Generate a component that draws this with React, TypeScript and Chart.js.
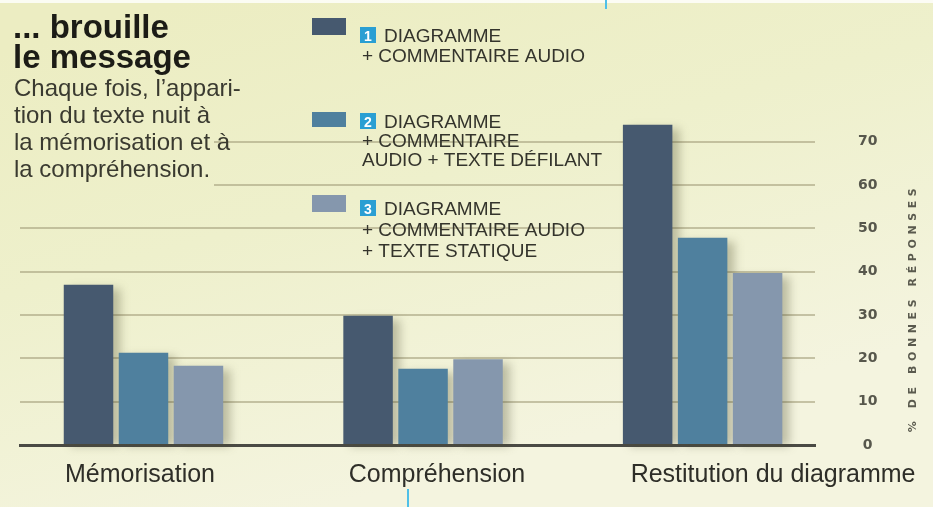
import React, { useEffect, useRef } from "react";
import { Chart, registerables } from "chart.js";

Chart.register(...registerables);

// ---- data ----
const CATEGORIES = ["Mémorisation", "Compréhension", "Restitution du diagramme"];
const SERIES_NAMES = [
  "DIAGRAMME + COMMENTAIRE AUDIO",
  "DIAGRAMME + COMMENTAIRE AUDIO + TEXTE DÉFILANT",
  "DIAGRAMME + COMMENTAIRE AUDIO + TEXTE STATIQUE",
];
const AUDIO_SEUL = [37, 29.8, 73.9];
const TEXTE_DEFILANT = [21.3, 17.6, 47.8];
const TEXTE_STATIQUE = [18.3, 19.8, 39.7];
const Y_TICKS = [0, 10, 20, 30, 40, 50, 60, 70];
const LEGEND_LINES = [
  ["DIAGRAMME", "+ COMMENTAIRE AUDIO"],
  ["DIAGRAMME", "+ COMMENTAIRE", "AUDIO + TEXTE DÉFILANT"],
  ["DIAGRAMME", "+ COMMENTAIRE AUDIO", "+ TEXTE STATIQUE"],
];
const TITLE_LINES = ["... brouille", "le message"];
const BODY_LINES = [
  "Chaque fois, l’appari-",
  "tion du texte nuit à",
  "la mémorisation et à",
  "la compréhension.",
];
const AXIS_TITLE = "% DE BONNES RÉPONSES";

const COLORS = ["#46596f", "#4f809e", "#8597ad"];

function makeBg(ctx: CanvasRenderingContext2D, w: number, h: number) {
  const g = ctx.createLinearGradient(w * 0.2, 0, w * 0.35, h);
  g.addColorStop(0, "#ecedc2");
  g.addColorStop(0.45, "#eef0cc");
  g.addColorStop(1, "#f4f4df");
  return g;
}

const decorPlugin = {
  id: "decor",
  beforeDraw(chart: any) {
    const { ctx, width, height } = chart;
    ctx.save();
    ctx.fillStyle = makeBg(ctx, width, height);
    ctx.fillRect(0, 0, width, height);
    ctx.restore();
  },
  beforeDatasetsDraw(chart: any) {
    const { ctx } = chart;
    ctx.save();
    ctx.filter = "blur(5px)";
    ctx.fillStyle = "rgba(70,70,40,0.32)";
    chart.data.datasets.forEach((_: any, di: number) => {
      const meta = chart.getDatasetMeta(di);
      meta.data.forEach((el: any) => {
        const p = el.getProps(["x", "y", "base", "width"], true);
        ctx.fillRect(p.x - p.width / 2 + 7, p.y + 4, p.width, p.base - p.y - 2);
      });
    });
    ctx.restore();
  },
  afterDraw(chart: any) {
    const { ctx, width, height } = chart;
    ctx.save();
    // mask behind intro text
    ctx.fillStyle = makeBg(ctx, width, height);
    ctx.fillRect(0, 0, 214, 192);
    // top white strip
    ctx.fillStyle = "rgba(255,255,255,0.8)";
    ctx.fillRect(0, 0, width, 3);

    // title
    ctx.fillStyle = "#1c1c16";
    ctx.textAlign = "left";
    ctx.textBaseline = "alphabetic";
    ctx.font = "bold 33px 'Liberation Sans', Arial, sans-serif";
    const titleBase = [38, 68];
    TITLE_LINES.forEach((t, i) => ctx.fillText(t, 13, titleBase[i]));
    ctx.fillStyle = "#3a3a30";
    ctx.font = "24px 'Liberation Sans', Arial, sans-serif";
    const bodyBase = [96, 123, 150, 177];
    BODY_LINES.forEach((t, i) => ctx.fillText(t, 14, bodyBase[i]));

    // legend
    const layout = [
      { sy: 18, sh: 17, lines: [42, 62] },
      { sy: 112, sh: 15, lines: [128, 147, 166] },
      { sy: 195, sh: 17, lines: [215, 236, 257] },
    ];
    chart.data.datasets.forEach((ds: any, i: number) => {
      const L = layout[i];
      ctx.fillStyle = ds.backgroundColor;
      ctx.fillRect(312, L.sy, 34, L.sh);
      // number box
      ctx.fillStyle = "#2a9fd3";
      ctx.fillRect(360, L.lines[0] - 15, 16, 16);
      ctx.fillStyle = "#ffffff";
      ctx.font = "bold 14px 'Liberation Sans', Arial, sans-serif";
      ctx.textAlign = "center";
      ctx.fillText(String(i + 1), 368, L.lines[0] - 1.5);
      ctx.textAlign = "left";
      ctx.fillStyle = "#34342c";
      ctx.font = "19px 'Liberation Sans', Arial, sans-serif";
      LEGEND_LINES[i].forEach((t, k) => {
        ctx.fillText(t, k === 0 ? 384 : 362, L.lines[k]);
      });
    });

    // y axis title (reads bottom to top)
    ctx.save();
    ctx.translate(913, 308);
    ctx.rotate(-Math.PI / 2);
    ctx.fillStyle = "#5a5a4e";
    ctx.font = "bold 11px 'DejaVu Sans', sans-serif";
    (ctx as any).letterSpacing = "4.6px";
    ctx.textAlign = "center";
    ctx.textBaseline = "middle";
    ctx.fillText(AXIS_TITLE, 0, 0);
    ctx.restore();

    // cyan guide marks
    ctx.strokeStyle = "#4fc0e8";
    ctx.lineWidth = 2;
    ctx.beginPath();
    ctx.moveTo(606, 0);
    ctx.lineTo(606, 9);
    ctx.moveTo(408, 489);
    ctx.lineTo(408, 507);
    ctx.stroke();
    ctx.restore();
  },
};

const LABEL_SHIFT = [-0.0125, 0.05, 0.252];

export default function App() {
  const ref = useRef<HTMLCanvasElement | null>(null);

  useEffect(() => {
    document.body.style.margin = "0";
    const series = [AUDIO_SEUL, TEXTE_DEFILANT, TEXTE_STATIQUE];
    const chart = new Chart(ref.current as HTMLCanvasElement, {
      type: "bar",
      data: {
        datasets: series.map((vals, si) => ({
          label: SERIES_NAMES[si],
          data: vals.map((v, ci) => ({ x: ci, y: v })),
          backgroundColor: COLORS[si],
          borderWidth: 0,
          categoryPercentage: 0.59,
          barPercentage: 0.9,
        })),
      },
      options: {
        animation: false,
        responsive: true,
        maintainAspectRatio: false,
        layout: { padding: { left: 20, top: 107, right: 0, bottom: 0 } },
        plugins: { legend: { display: false }, tooltip: { enabled: false }, title: { display: false } },
        scales: {
          x: {
            type: "linear",
            offset: false,
            min: -0.4417,
            max: 2.402,
            afterBuildTicks: (s: any) => {
              s.ticks = CATEGORIES.map((_, i) => ({ value: i + LABEL_SHIFT[i] }));
            },
            afterFit: (s: any) => {
              s.height = 62;
              s.paddingLeft = 0;
              s.paddingRight = 0;
            },
            ticks: {
              autoSkip: false,
              maxRotation: 0,
              minRotation: 0,
              padding: 15,
              color: "#2e2e28",
              font: { family: "'Liberation Sans', Arial, sans-serif", size: 25 },
              callback: (_v: any, i: number) => CATEGORIES[i],
            },
            grid: { display: false, drawTicks: false, offset: false },
            border: { display: true, color: "#4a4a44", width: 3 },
          },
          y: {
            type: "linear",
            position: "right",
            min: 0,
            max: 78,
            afterBuildTicks: (s: any) => {
              s.ticks = Y_TICKS.map((v) => ({ value: v }));
            },
            afterFit: (s: any) => {
              s.width = 118;
            },
            ticks: {
              padding: 43,
              crossAlign: "center",
              color: "#57574c",
              font: { family: "'DejaVu Sans', sans-serif", size: 14, weight: "bold" },
            },
            grid: { color: "rgba(165,160,125,0.6)", lineWidth: 2, drawTicks: false, tickLength: 0 },
            border: { display: false },
          },
        },
      } as any,
      plugins: [decorPlugin],
    });
    return () => chart.destroy();
  }, []);

  return (
    <div style={{ width: 933, height: 507, position: "relative" }}>
      <canvas ref={ref} />
    </div>
  );
}
